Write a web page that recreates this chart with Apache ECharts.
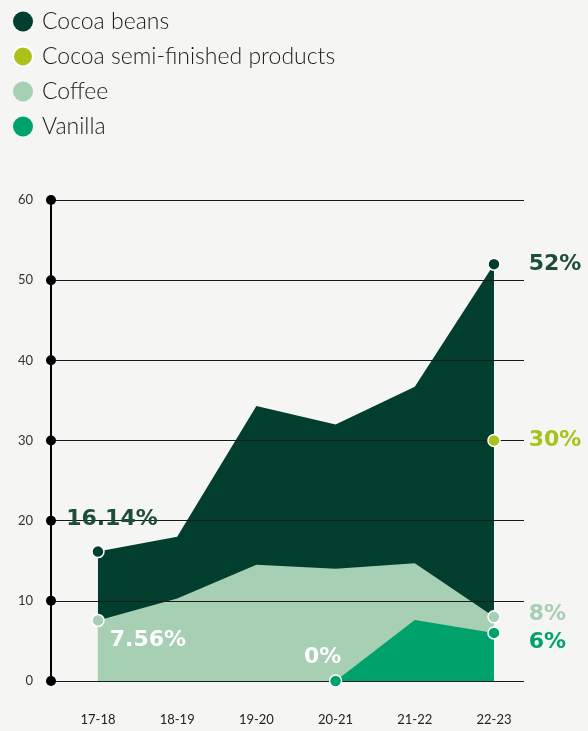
<!DOCTYPE html>
<html>
<head>
<meta charset="utf-8">
<script src="https://cdn.jsdelivr.net/npm/echarts@6/dist/echarts.min.js"></script>
<style>
html,body{margin:0;padding:0;background:#f5f5f4;}
#chart{width:588px;height:731px;}
</style>
</head>
<body>
<div id="chart"></div>
<script>
// ---- data ----
const categories = ['17-18', '18-19', '19-20', '20-21', '21-22', '22-23'];
const cocoaBeans = [16.14, 18, 34.3, 32, 36.7, 52];
const cocoaSemi = [null, null, null, null, null, 30];
const coffee = [7.56, 10.3, 14.5, 14, 14.7, 8];
const vanilla = [null, null, null, 0, 7.6, 6];
const yTicks = [0, 10, 20, 30, 40, 50, 60];
// indices of highlighted (labelled) points
const cocoaBeansMarked = [0, 5];
const cocoaSemiMarked = [5];
const coffeeMarked = [0, 5];
const vanillaMarked = [3, 5];

// ---- styling ----
const C_BEANS = '#013e2e';
const C_SEMI = '#a9c21a';
const C_COFFEE = '#a6cfb3';
const C_VANILLA = '#00a26b';
const X_MIN = -0.593, X_MAX = 5.379;

function pairs(arr) {
  const out = [];
  arr.forEach((v, i) => { if (v !== null) out.push([i, v]); });
  return out;
}
function marked(arr, idx) { return idx.map(i => [i, arr[i]]); }

const labelFont = { fontFamily: 'DejaVu Sans', fontWeight: 'bold', fontSize: 22 };

function areaSeries(name, arr, color) {
  return {
    name: name, type: 'line', data: pairs(arr), z: 2,
    showSymbol: false, symbol: 'none',
    lineStyle: { width: 0, color: color },
    itemStyle: { color: color },
    areaStyle: { color: color, opacity: 1, origin: 0 },
    silent: true, animation: false
  };
}
function markerSeries(name, arr, idx, color, labelFn) {
  return {
    name: name, type: 'scatter', z: 6, clip: false,
    data: marked(arr, idx).map((p, k) => ({ value: p, label: labelFn(k, p) })),
    symbolSize: 12,
    itemStyle: { color: color, borderColor: '#ffffff', borderWidth: 1.5, opacity: 1 },
    animation: false, silent: true
  };
}
const pct = p => p.value[1] + '%';

const option = {
  backgroundColor: '#f5f5f4',
  animation: false,
  legend: {
    orient: 'vertical', left: 7, top: 5,
    itemWidth: 20, itemHeight: 20, itemGap: 12, icon: 'circle',
    data: ['Cocoa beans', 'Cocoa semi-finished products', 'Coffee', 'Vanilla'],
    textStyle: { fontFamily: 'Lato', fontWeight: 300, fontSize: 23, color: '#1a1a1a', padding: [0, 0, 0, 4] },
    selectedMode: false
  },
  grid: { left: 51, right: 64, top: 200, bottom: 50 },
  xAxis: {
    type: 'value', min: X_MIN, max: X_MAX,
    axisLine: { show: false }, axisTick: { show: false }, splitLine: { show: false },
    axisLabel: {
      customValues: categories.map((c, i) => i),
      formatter: v => categories[Math.round(v)] || '',
      fontFamily: 'Lato', fontSize: 13, color: '#222', margin: 32
    }
  },
  yAxis: {
    type: 'value', min: 0, max: 60, interval: 10, z: 4,
    axisLine: { show: true, onZero: false, lineStyle: { color: '#000', width: 2 } },
    axisTick: { show: false },
    splitLine: { show: true, lineStyle: { color: '#1a1a1a', width: 1 } },
    axisLabel: { fontFamily: 'Lato', fontSize: 13, color: '#333', margin: 18 }
  },
  series: [
    areaSeries('Cocoa beans', cocoaBeans, C_BEANS),
    areaSeries('Coffee', coffee, C_COFFEE),
    areaSeries('Vanilla', vanilla, C_VANILLA),
    {
      name: 'axisDots', type: 'scatter', z: 7, clip: false, silent: true,
      data: yTicks.map(t => [X_MIN, t]), symbolSize: 10,
      itemStyle: { color: '#000', opacity: 1 }
    },
    markerSeries('Cocoa beans', cocoaBeans, cocoaBeansMarked, C_BEANS, (k, p) => k === 0
      ? Object.assign({ show: true, position: 'top', distance: 6, offset: [14, -9], color: '#1d4d3b', formatter: pct }, labelFont)
      : Object.assign({ show: true, position: 'right', distance: 28, offset: [0, 0], color: '#1d4d3b', formatter: pct }, labelFont)),
    markerSeries('Cocoa semi-finished products', cocoaSemi, cocoaSemiMarked, C_SEMI, (k, p) =>
      Object.assign({ show: true, position: 'right', distance: 28, offset: [0, 0], color: C_SEMI, formatter: pct }, labelFont)),
    markerSeries('Coffee', coffee, coffeeMarked, C_COFFEE, (k, p) => k === 0
      ? Object.assign({ show: true, position: 'right', distance: 5, offset: [0, 20], color: '#ffffff', formatter: pct }, labelFont)
      : Object.assign({ show: true, position: 'right', distance: 28, offset: [0, -3], color: C_COFFEE, formatter: pct }, labelFont)),
    markerSeries('Vanilla', vanilla, vanillaMarked, C_VANILLA, (k, p) => k === 0
      ? Object.assign({ show: true, position: 'top', distance: 6, offset: [-13, 0], color: '#ffffff', formatter: pct }, labelFont)
      : Object.assign({ show: true, position: 'right', distance: 28, offset: [0, 9], color: C_VANILLA, formatter: pct }, labelFont))
  ]
};
const chart = echarts.init(document.getElementById('chart'), null, { renderer: 'canvas' });
chart.setOption(option);
</script>
</body>
</html>
